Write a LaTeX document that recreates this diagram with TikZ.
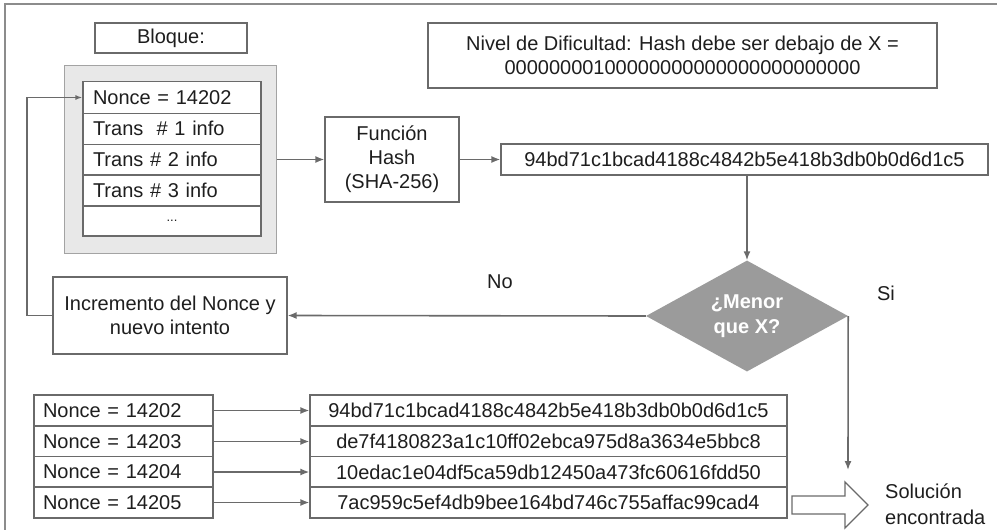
\documentclass[tikz,border=0pt]{standalone}
\usepackage{fontspec}
\setmainfont{Liberation Sans}
\usetikzlibrary{arrows.meta,shapes.geometric}
\definecolor{linegray}{HTML}{6A6A6A}
\definecolor{framegray}{HTML}{8C8C8C}
\definecolor{boxfill}{HTML}{E8E8E8}
\definecolor{diafill}{HTML}{9B9B9B}
\definecolor{txt}{HTML}{1E1E1E}
\tikzset{
  box/.style={draw=linegray, line width=1.2pt, fill=white, inner sep=0pt, text=txt, align=center},
  leftcell/.style={box, align=left, inner xsep=10pt, inner ysep=0pt},
  arr/.style={draw=linegray, line width=1.6pt, -{Latex[length=9pt,width=7pt]}},
  plainline/.style={draw=linegray, line width=1.6pt},
  lbl/.style={text=txt, inner sep=0pt}
}
\begin{document}
\begin{tikzpicture}[x=1pt,y=-1pt,font=\fontsize{20}{24}\selectfont]
\useasboundingbox (0,0) rectangle (997,530);
\fill[white] (0,0) rectangle (997,530);
% outer frame (cropped)
\draw[framegray, line width=2.5pt] (5,540) -- (5,4) -- (1005,4);

% Bloque title
\node[box, minimum width=152pt, minimum height=30pt] (bloque) at (171,38) {Bloque:};
% container
\node[draw=framegray!80, line width=1pt, fill=boxfill, minimum width=212pt, minimum height=188pt, inner sep=0pt] (cont) at (170,159) {};
% rows
\node[leftcell, text width=158pt, minimum height=31.5pt] (r1) at (172,97.5) {Nonce = 14202};
\node[leftcell, text width=158pt, minimum height=31pt] (r2) at (172,128.7) {Trans\ \ \# 1 info};
\node[leftcell, text width=158pt, minimum height=31pt] (r3) at (172,159.7) {Trans \# 2 info};
\node[leftcell, text width=158pt, minimum height=31pt] (r4) at (172,190.5) {Trans \# 3 info};
\node[box, minimum width=178pt, minimum height=30pt] (r5) at (172,221) {\fontsize{13}{15}\selectfont ...};

% difficulty
\node[box, minimum width=509pt, minimum height=65pt] (nivel) at (682.5,55.5) {Nivel de Dificultad: Hash debe ser debajo de X =\\00000000100000000000000000000000};

% hash function
\node[box, minimum width=134pt, minimum height=85pt] (func) at (392,159.5) {Función\\Hash\\(SHA-256)};
% top hash
\node[box, minimum width=487pt, minimum height=31pt] (hash) at (744.5,159.5) {94bd71c1bcad4188c4842b5e418b3db0b0d6d1c5};

% decision
\node[diamond, fill=diafill, aspect=1.82, minimum width=202pt, minimum height=111pt, inner sep=0pt, text=white, align=center, font=\fontsize{20}{25}\selectfont\bfseries] (dec) at (747,316) {¿Menor\\que X?};

% increment
\node[box, minimum width=234pt, minimum height=77pt] (inc) at (170,315.5) {Incremento del Nonce y\\nuevo intento};

% labels
\node[lbl] (no) at (500,282) {No};
\node[lbl] (si) at (886,293) {Si};

% bottom table
\node[leftcell, inner xsep=9pt, text width=161pt, minimum height=31pt] (n1) at (123.5,410.5) {Nonce = 14202};
\node[leftcell, inner xsep=9pt, text width=161pt, minimum height=31pt] (n2) at (123.5,441.5) {Nonce = 14203};
\node[leftcell, inner xsep=9pt, text width=161pt, minimum height=31pt] (n3) at (123.5,472) {Nonce = 14204};
\node[leftcell, inner xsep=9pt, text width=161pt, minimum height=31pt] (n4) at (123.5,502.5) {Nonce = 14205};
\node[box, minimum width=477pt, minimum height=31pt] (h1) at (548.5,410.5) {94bd71c1bcad4188c4842b5e418b3db0b0d6d1c5};
\node[box, minimum width=477pt, minimum height=31pt] (h2) at (548.5,441.5) {de7f4180823a1c10ff02ebca975d8a3634e5bbc8};
\node[box, minimum width=477pt, minimum height=31pt] (h3) at (548.5,472) {10edac1e04df5ca59db12450a473fc60616fdd50};
\node[box, minimum width=477pt, minimum height=31pt] (h4) at (548.5,502.5) {7ac959c5ef4db9bee164bd746c755affac99cad4};

% solution
\node[lbl, align=left, anchor=west, font=\fontsize{20}{26}\selectfont] (sol) at (885,504) {Solución\\encontrada};

% connectors
\draw[arr] (cont.east |- func.west) -- (func.west);
\draw[arr] (func.east) -- (hash.west);
\draw[arr] (hash.south -| dec.north) -- (dec.north);
\draw[arr] (dec.west) -- (inc.east);
\coordinate (fb) at (27,315.5);
\draw[arr, line width=1.4pt, -{Latex[length=7pt,width=5pt]}] (inc.west) -- (fb) |- (r1.west);
\coordinate (siend) at (848,470);
\draw[arr] (dec.east) -- (siend);
\foreach \i in {1,...,4}{
  \draw[arr] (n\i.east) -- (h\i.west);
}
% hollow arrow
\draw[linegray, line width=1.3pt, fill=white] (792,496) -- (845,496) -- (845,482) -- (868,505) -- (845,528) -- (845,514) -- (792,514) -- cycle;
\end{tikzpicture}
\end{document}
